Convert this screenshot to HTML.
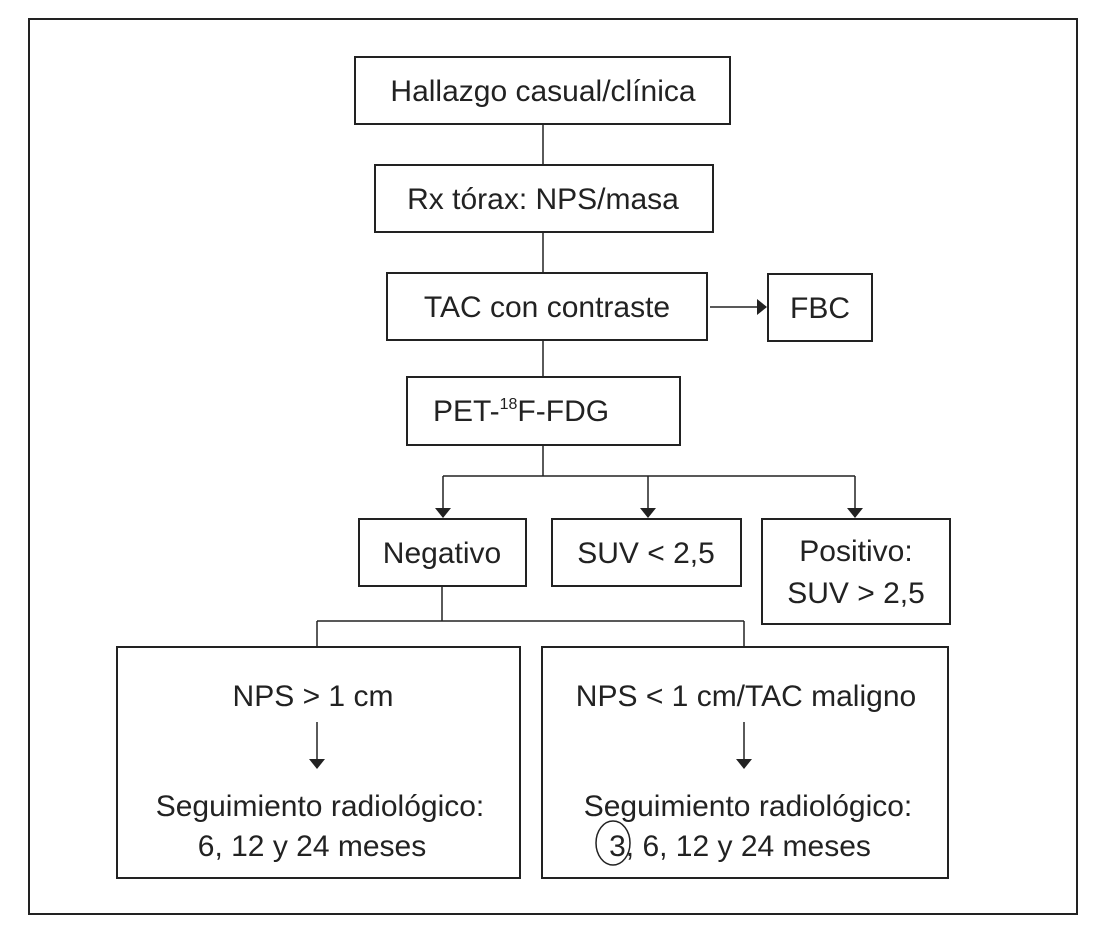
<!DOCTYPE html>
<html><head><meta charset="utf-8"><style>
html,body{margin:0;padding:0;background:#fff;}
svg{display:block;}
text{font-family:"Liberation Sans",sans-serif;font-size:30px;fill:#222;text-anchor:middle;}
</style></head><body>
<svg width="1095" height="933" viewBox="0 0 1095 933" xmlns="http://www.w3.org/2000/svg">
<defs><marker id="a" markerWidth="10" markerHeight="16" refX="9" refY="8" orient="auto" markerUnits="userSpaceOnUse"><path d="M0,0 L10,8 L0,16 z" fill="#222"/></marker></defs>
<g fill="none" stroke="#222" stroke-width="2">
<rect x="29" y="19" width="1048" height="895"/>
<rect x="355" y="57" width="375" height="67"/>
<rect x="375" y="165" width="338" height="67"/>
<rect x="387" y="273" width="320" height="67"/>
<rect x="768" y="274" width="104" height="67"/>
<rect x="407" y="377" width="273" height="68"/>
<rect x="359" y="519" width="167" height="67"/>
<rect x="552" y="519" width="189" height="67"/>
<rect x="762" y="519" width="188" height="105"/>
<rect x="117" y="647" width="403" height="231"/>
<rect x="542" y="647" width="406" height="231"/>
</g>
<g fill="none" stroke="#222" stroke-width="1.5">
<line x1="543" y1="124" x2="543" y2="165"/>
<line x1="543" y1="232" x2="543" y2="273"/>
<line x1="543" y1="340" x2="543" y2="377"/>
<line x1="543" y1="445" x2="543" y2="476"/>
<line x1="710" y1="307" x2="766" y2="307" marker-end="url(#a)"/>
<line x1="443" y1="476" x2="855" y2="476"/>
<line x1="443" y1="476" x2="443" y2="517" marker-end="url(#a)"/>
<line x1="648" y1="476" x2="648" y2="517" marker-end="url(#a)"/>
<line x1="855" y1="476" x2="855" y2="517" marker-end="url(#a)"/>
<line x1="442" y1="586" x2="442" y2="621"/>
<line x1="317" y1="621" x2="744" y2="621"/>
<line x1="317" y1="621" x2="317" y2="647"/>
<line x1="744" y1="621" x2="744" y2="647"/>
<line x1="317" y1="722" x2="317" y2="768" marker-end="url(#a)"/>
<line x1="744" y1="722" x2="744" y2="768" marker-end="url(#a)"/>
<ellipse cx="613" cy="843" rx="17" ry="22"/>
</g>
<text x="543" y="101">Hallazgo casual/clínica</text>
<text x="543" y="209">Rx tórax: NPS/masa</text>
<text x="547" y="317">TAC con contraste</text>
<text x="820" y="318">FBC</text>
<text x="521" y="421">PET-<tspan font-size="16" dy="-12">18</tspan><tspan dy="12">F-FDG</tspan></text>
<text x="442" y="563">Negativo</text>
<text x="646" y="563">SUV &lt; 2,5</text>
<text x="856" y="561">Positivo:</text>
<text x="856" y="603">SUV &gt; 2,5</text>
<text x="313" y="706">NPS &gt; 1 cm</text>
<text x="746" y="706">NPS &lt; 1 cm/TAC maligno</text>
<text x="320" y="816">Seguimiento radiológico:</text>
<text x="312" y="856">6, 12 y 24 meses</text>
<text x="748" y="816">Seguimiento radiológico:</text>
<text x="740" y="856">3, 6, 12 y 24 meses</text>
</svg>
</body></html>
